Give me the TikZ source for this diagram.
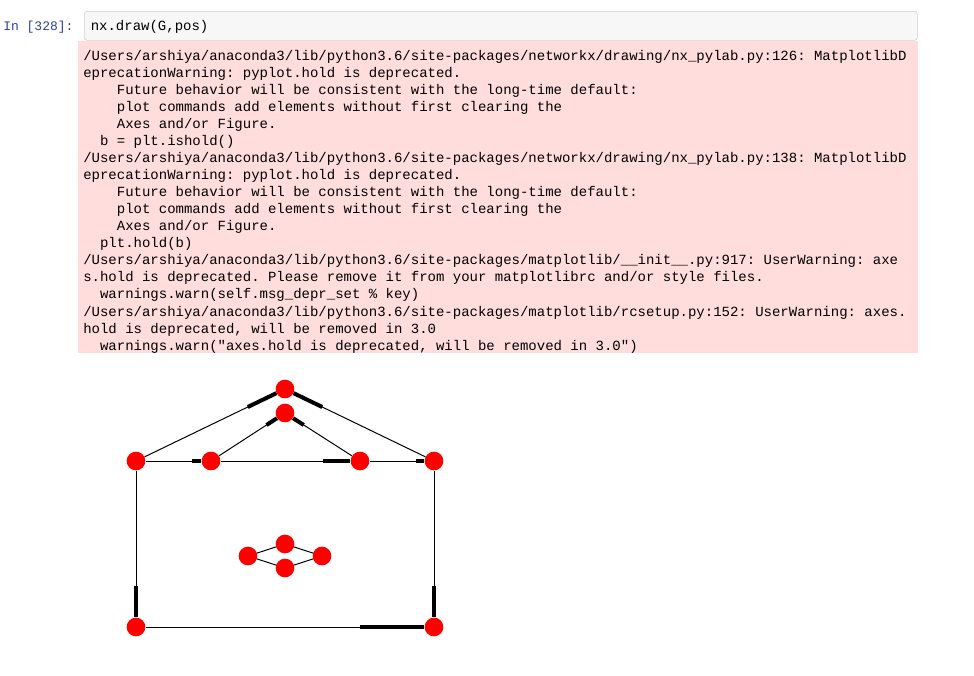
\documentclass[tikz,border=0pt]{standalone}
\usepackage{fontspec}
\setmonofont{Liberation Mono}
\usepackage{xcolor}
\usepackage{tikz}
\usetikzlibrary{positioning,calc}

\definecolor{promptblue}{HTML}{303F9F}
\definecolor{cellgray}{HTML}{F7F7F7}
\definecolor{cellline}{HTML}{CFCFCF}
\definecolor{warnpink}{HTML}{FFDDDD}

\begin{document}
\begin{tikzpicture}[x=0.75pt, y=-0.75pt,
      cell/.style={draw=cellline, fill=cellgray, rounded corners=2pt, inner sep=0pt, anchor=north west},
      warnbox/.style={fill=warnpink, inner sep=0pt, anchor=north west},
      code/.style={font=\ttfamily\fontsize{10.5}{12.8}\selectfont, inner sep=0pt},
      vertex/.style={circle, fill=red, inner sep=0pt, minimum size=14pt},
      edge/.style={line width=0.75pt},
      head/.style={line width=3pt}
    ]
    \useasboundingbox (0,0) rectangle (974,675);

    % notebook cell
    \node[code, font=\ttfamily\fontsize{9.75}{12}\selectfont, text=promptblue, anchor=base west] (prompt) at (3,30.5) {In [328]:};
    \node[cell, minimum width=624.75pt, minimum height=21.75pt] (incell) at (84,11) {};
    \node[code, anchor=base west] (incode) at (90.5,30.5) {nx.draw(G,pos)};

    % warnings
    \node[warnbox, minimum width=630pt, minimum height=234pt] (warn) at (78,41) {};
    \node[code, anchor=north west, align=left] (warntext) at (83,46.4) {\rule{0pt}{10pt}/Users/arshiya/anaconda3/lib/python3.6/site-packages/networkx/drawing/nx\_pylab.py:126: MatplotlibD\\
eprecationWarning: pyplot.hold is deprecated.\\
\phantom{xxxx}Future behavior will be consistent with the long-time default:\\
\phantom{xxxx}plot commands add elements without first clearing the\\
\phantom{xxxx}Axes and/or Figure.\\
\phantom{xx}b = plt.ishold()\\
/Users/arshiya/anaconda3/lib/python3.6/site-packages/networkx/drawing/nx\_pylab.py:138: MatplotlibD\\
eprecationWarning: pyplot.hold is deprecated.\\
\phantom{xxxx}Future behavior will be consistent with the long-time default:\\
\phantom{xxxx}plot commands add elements without first clearing the\\
\phantom{xxxx}Axes and/or Figure.\\
\phantom{xx}plt.hold(b)\\
/Users/arshiya/anaconda3/lib/python3.6/site-packages/matplotlib/\_\_init\_\_.py:917: UserWarning: axe\\
s.hold is deprecated. Please remove it from your matplotlibrc and/or style files.\\
\phantom{xx}warnings.warn(self.msg\_depr\_set \% key)\\
/Users/arshiya/anaconda3/lib/python3.6/site-packages/matplotlib/rcsetup.py:152: UserWarning: axes.\\
hold is deprecated, will be removed in 3.0\\
\phantom{xx}warnings.warn("axes.hold is deprecated, will be removed in 3.0")};

    % graph
    \node[vertex] (peak) at (285,389) {};
    \node[vertex] (innerpeak) at (285,413) {};
    \node[vertex] (eaveL) at (136,461) {};
    \node[vertex] (innerL) at (211,461) {};
    \node[vertex] (innerR) at (360,461) {};
    \node[vertex] (eaveR) at (434,461) {};
    \node[vertex] (baseL) at (136,627) {};
    \node[vertex] (baseR) at (434,627) {};
    \node[vertex] (dmL) at (248,556) {};
    \node[vertex] (dmT) at (285,544) {};
    \node[vertex] (dmB) at (285,568) {};
    \node[vertex] (dmR) at (322,556) {};

    \draw[edge] (eaveL) -- (peak);
    \draw[edge] (eaveR) -- (peak);
    \draw[edge] (innerL) -- (innerpeak);
    \draw[edge] (innerR) -- (innerpeak);
    \draw[edge] (eaveL) -- (innerL);
    \draw[edge] (innerL) -- (innerR);
    \draw[edge] (innerR) -- (eaveR);
    \draw[edge] (eaveL) -- (baseL);
    \draw[edge] (eaveR) -- (baseR);
    \draw[edge] (baseL) -- (baseR);
    \draw[edge] (dmL) -- (dmT);
    \draw[edge] (dmL) -- (dmB);
    \draw[edge] (dmT) -- (dmR);
    \draw[edge] (dmB) -- (dmR);

    \draw[head] ($(peak)!0.25!(eaveL)$) -- (peak);
    \draw[head] ($(peak)!0.25!(eaveR)$) -- (peak);
    \draw[head] ($(innerpeak)!0.25!(innerL)$) -- (innerpeak);
    \draw[head] ($(innerpeak)!0.25!(innerR)$) -- (innerpeak);
    \draw[head] ($(innerL)!0.25!(eaveL)$) -- (innerL);
    \draw[head] ($(innerR)!0.25!(innerL)$) -- (innerR);
    \draw[head] ($(eaveR)!0.25!(innerR)$) -- (eaveR);
    \draw[head] ($(baseL)!0.25!(eaveL)$) -- (baseL);
    \draw[head] ($(baseR)!0.25!(eaveR)$) -- (baseR);
    \draw[head] ($(baseR)!0.25!(baseL)$) -- (baseR);
  \end{tikzpicture}
\end{document}
